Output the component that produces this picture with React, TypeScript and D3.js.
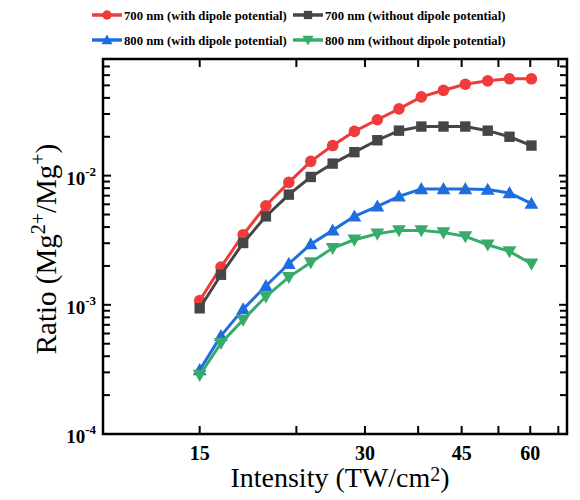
import React from "react";
import * as d3 from "d3";

const intensity = [15, 16.4, 18.0, 19.8, 21.8, 23.9, 26.2, 28.7, 31.6, 34.6, 38.0, 41.7, 45.7, 50.2, 55.0, 60.3];
const red700 = [1.08e-3, 1.96e-3, 3.49e-3, 5.85e-3, 8.87e-3, 1.29e-2, 1.71e-2, 2.2e-2, 2.71e-2, 3.29e-2, 4.07e-2, 4.58e-2, 5.1e-2, 5.42e-2, 5.62e-2, 5.62e-2];
const gray700 = [9.4e-4, 1.71e-3, 3.01e-3, 4.84e-3, 7.13e-3, 9.77e-3, 1.24e-2, 1.52e-2, 1.88e-2, 2.23e-2, 2.4e-2, 2.4e-2, 2.4e-2, 2.23e-2, 2.0e-2, 1.71e-2];
const blue800 = [3.13e-4, 5.75e-4, 9.26e-4, 1.4e-3, 2.08e-3, 2.95e-3, 3.77e-3, 4.84e-3, 5.78e-3, 6.91e-3, 7.88e-3, 7.88e-3, 7.88e-3, 7.8e-3, 7.34e-3, 6.07e-3];
const green800 = [2.86e-4, 5.05e-4, 7.65e-4, 1.16e-3, 1.64e-3, 2.13e-3, 2.75e-3, 3.19e-3, 3.55e-3, 3.77e-3, 3.77e-3, 3.63e-3, 3.39e-3, 2.92e-3, 2.59e-3, 2.08e-3];

const seriesNames = [
  "700 nm (with dipole potential)",
  "700 nm (without dipole potential)",
  "800 nm (with dipole potential)",
  "800 nm (without dipole potential)",
];
const seriesColors = ["#ee3b3b", "#464646", "#1d6fe0", "#38ab6a"];
const seriesMarkers = ["circle", "square", "triUp", "triDown"];
const seriesValues = [red700, gray700, blue800, green800];

const xMajorTicks = [15, 30, 45, 60];
const xMinorTicks = [22.5, 37.5, 52.5, 67.5];
const yMajorExps = [-4, -3, -2];
const yMinorMultipliers = [2, 3, 4, 5, 6, 7, 8, 9];

const W = 580, H = 500;
const L = 103, R = 567, T = 59, B = 434;
const FONT = "'Liberation Serif', 'Times New Roman', serif";

function Marker({ type, x, y, color, s }: { type: string; x: number; y: number; color: string; s: number }) {
  if (type === "circle") return <circle cx={x} cy={y} r={s * 0.58} fill={color} />;
  if (type === "square") return <rect x={x - s * 0.52} y={y - s * 0.52} width={s * 1.04} height={s * 1.04} fill={color} />;
  const h = s * 1.15;
  if (type === "triUp") {
    return <path d={`M${x},${y - h * 0.6}L${x + h * 0.6},${y + h * 0.45}L${x - h * 0.6},${y + h * 0.45}Z`} fill={color} />;
  }
  return <path d={`M${x},${y + h * 0.6}L${x + h * 0.6},${y - h * 0.45}L${x - h * 0.6},${y - h * 0.45}Z`} fill={color} />;
}

export default function App() {
  const x = d3.scaleLog().domain([10, 70]).range([L, R]);
  const y = d3.scaleLog().domain([1e-4, 8e-2]).range([B, T]);
  const line = d3.line<[number, number]>().x((d) => x(d[0])).y((d) => y(d[1]));

  const yMinor: number[] = [];
  for (const e of yMajorExps) {
    for (const m of yMinorMultipliers) {
      const v = m * Math.pow(10, e);
      if (v <= 8.0001e-2) yMinor.push(v);
    }
  }

  const tickLen = 8, minorLen = 7;

  const legendItems = [
    { i: 0, lx: 92, ly: 15 },
    { i: 1, lx: 293, ly: 15 },
    { i: 2, lx: 92, ly: 40 },
    { i: 3, lx: 293, ly: 40 },
  ];

  return (
    <svg width={W} height={H} style={{ display: "block", position: "absolute", left: 0, top: 0 }}>
      <rect width={W} height={H} fill="#fff" />
      {seriesValues.map((vals, si) => {
        const pts = intensity.map((xv, i) => [xv, vals[i]] as [number, number]);
        return (
          <g key={si}>
            <path d={line(pts) || ""} fill="none" stroke={seriesColors[si]} strokeWidth={3} />
            {pts.map((p, i) => (
              <Marker key={i} type={seriesMarkers[si]} x={x(p[0])} y={y(p[1])} color={seriesColors[si]} s={10} />
            ))}
          </g>
        );
      })}
      <rect x={L} y={T} width={R - L} height={B - T} fill="none" stroke="#000" strokeWidth={2.5} />
      {xMajorTicks.concat(xMinorTicks).map((t, i) => (
        <g key={"xt" + i}>
          <line x1={x(t)} x2={x(t)} y1={B} y2={B - tickLen} stroke="#000" strokeWidth={2} />
          <line x1={x(t)} x2={x(t)} y1={T} y2={T + tickLen} stroke="#000" strokeWidth={2} />
        </g>
      ))}
      {xMajorTicks.map((t) => (
        <text key={"xl" + t} x={x(t)} y={460} textAnchor="middle" fontFamily={FONT} fontWeight="bold" fontSize={20}>
          {t}
        </text>
      ))}
      {yMajorExps.map((e) => {
        const v = Math.pow(10, e);
        return (
          <g key={"ym" + e}>
            <line x1={L} x2={L + tickLen} y1={y(v)} y2={y(v)} stroke="#000" strokeWidth={2} />
            <line x1={R} x2={R - tickLen} y1={y(v)} y2={y(v)} stroke="#000" strokeWidth={2} />
            <text x={96} y={y(v) + 9} textAnchor="end" fontFamily={FONT} fontWeight="bold" fontSize={19}>
              10
              <tspan dy={-9} fontSize={13}>{e}</tspan>
            </text>
          </g>
        );
      })}
      {yMinor.map((v, i) => (
        <g key={"yn" + i}>
          <line x1={L} x2={L + minorLen} y1={y(v)} y2={y(v)} stroke="#000" strokeWidth={2} />
          <line x1={R} x2={R - minorLen} y1={y(v)} y2={y(v)} stroke="#000" strokeWidth={2} />
        </g>
      ))}
      <text x={(228 + 452) / 2} y={487} textAnchor="middle" fontFamily={FONT} fontSize={28}>
        Intensity (TW/cm<tspan dy={-6} fontSize={20}>2</tspan><tspan dy={6}>)</tspan>
      </text>
      <text transform={`translate(56,249) rotate(-90)`} textAnchor="middle" fontFamily={FONT} fontSize={29}>
        Ratio (Mg<tspan dy={-11} fontSize={20}>2+</tspan><tspan dy={11}>/Mg</tspan><tspan dy={-11} fontSize={20}>+</tspan><tspan dy={11}>)</tspan>
      </text>
      {legendItems.map(({ i, lx, ly }) => (
        <g key={"lg" + i}>
          <line x1={lx} x2={lx + 30} y1={ly} y2={ly} stroke={seriesColors[i]} strokeWidth={3.5} />
          <Marker type={seriesMarkers[i]} x={lx + 15} y={ly} color={seriesColors[i]} s={8} />
          <text x={lx + 32} y={ly + 4.5} fontFamily={FONT} fontWeight="bold" fontSize={12.7}>
            {seriesNames[i]}
          </text>
        </g>
      ))}
    </svg>
  );
}
